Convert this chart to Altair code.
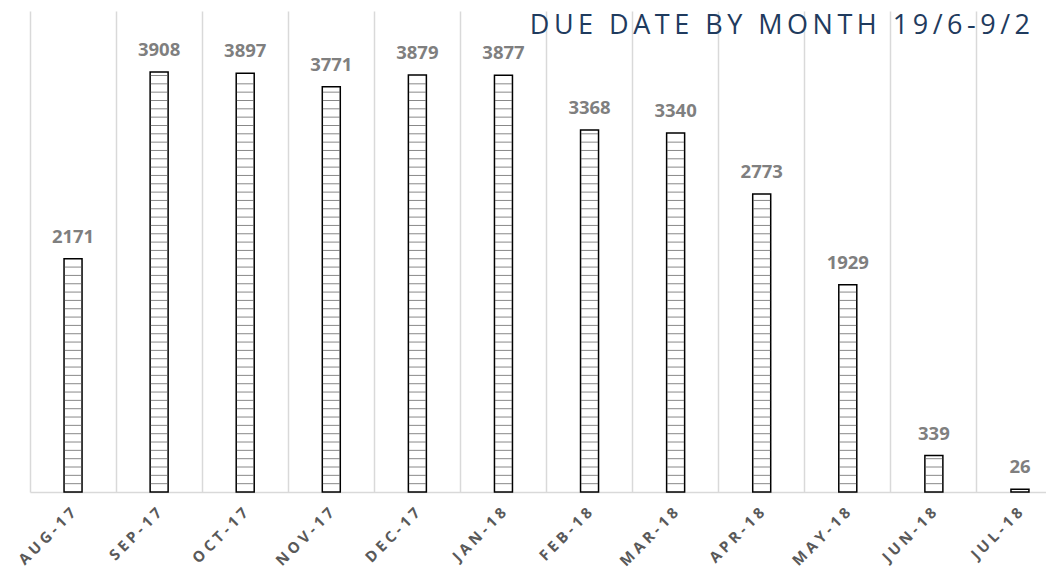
import altair as alt
import pandas as pd

months = ["AUG-17", "SEP-17", "OCT-17", "NOV-17", "DEC-17", "JAN-18",
          "FEB-18", "MAR-18", "APR-18", "MAY-18", "JUN-18", "JUL-18"]
counts = [2171, 3908, 3897, 3771, 3879, 3877, 3368, 3340, 2773, 1929, 339, 26]
title_text = "DUE DATE BY MONTH 19/6-9/2"

df = pd.DataFrame({"month": months, "count": counts})

# horizontal-line fill pattern, derived from each bar's value
step = 77.5
rows = []
for m, v in zip(months, counts):
    k = 1
    while k * step <= v - step * 0.3:
        rows.append({"month": m, "y": k * step})
        k += 1
stripes = pd.DataFrame(rows)

xscale = alt.Scale(domain=months, range=[0, 1033], paddingInner=0, paddingOuter=0)
yscale = alt.Scale(domain=[0, 4475], nice=False, zero=True)

label_gap = "\u2005"   # letter spacing for axis labels
title_gap = "\u2006"   # letter spacing for title

xaxis = alt.Axis(
    title=None, bandPosition=0, grid=True, gridColor="#D9D9D9", gridWidth=1.5,
    domainColor="#D9D9D9", domainWidth=1.5, ticks=False,
    labelAngle=-45, labelAlign="right", labelBaseline="middle", labelPadding=18,
    labelFont="Open Sans", labelFontSize=15, labelFontWeight="bold", labelColor="#595959",
    labelExpr="join(split(datum.label, ''), '" + label_gap + "')",
)

X = alt.X("month:N", scale=xscale, axis=xaxis)

bars = alt.Chart(df).mark_bar(size=18, fill="white", stroke="black", strokeWidth=1.5).encode(
    x=X, y=alt.Y("count:Q", scale=yscale, axis=None),
)

ticks = alt.Chart(stripes).mark_tick(size=17, thickness=1, color="#555555").encode(
    x=X, y=alt.Y("y:Q", scale=yscale, axis=None),
)

labels = alt.Chart(df).mark_text(
    font="Open Sans", fontSize=18.5, fontWeight="bold", color="#7F7F7F",
    baseline="alphabetic", dy=-16,
).encode(x=X, y=alt.Y("count:Q", scale=yscale, axis=None), text="count:Q")

title = alt.Chart(pd.DataFrame({"t": [title_text]})).transform_calculate(
    ts="join(split(datum.t, ''), '" + title_gap + "')"
).mark_text(
    font="Open Sans", fontSize=27, color="#1F3B5E", align="right", baseline="alphabetic",
).encode(x=alt.value(1000), y=alt.value(23), text="ts:N")

chart = alt.layer(bars, ticks, labels, title).properties(
    width=1016, height=481,
    autosize=alt.AutoSizeParams(type="none"),
    padding={"left": 22, "top": 3, "right": 0, "bottom": 81},
).configure_view(strokeWidth=0)

chart.save("out.html", embed_options={"renderer": "svg", "actions": False})
